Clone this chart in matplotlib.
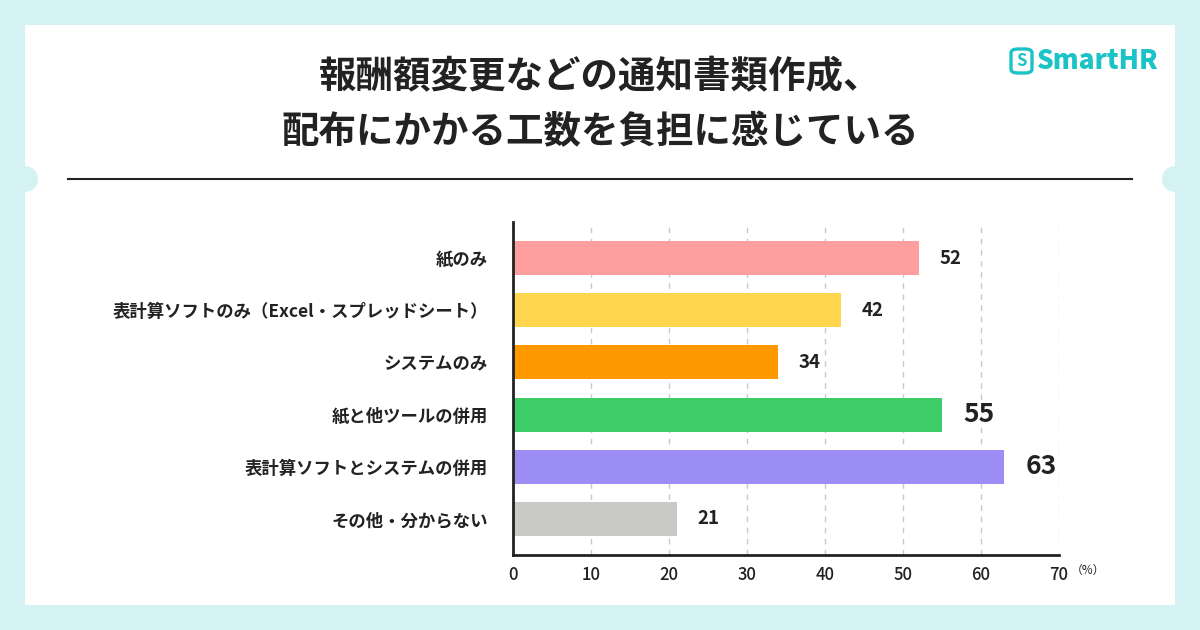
import matplotlib
matplotlib.use('Agg')
import matplotlib.pyplot as plt
from matplotlib.patches import FancyBboxPatch, Ellipse, Rectangle
from matplotlib.lines import Line2D

plt.rcParams['font.family'] = ['Noto Sans CJK JP', 'DejaVu Sans']

# data
categories = ['紙のみ', '表計算ソフトのみ（Excel・スプレッドシート）', 'システムのみ',
              '紙と他ツールの併用', '表計算ソフトとシステムの併用', 'その他・分からない']
values = [52, 42, 34, 55, 63, 21]
colors = ['#ff9e9e', '#ffd74f', '#ff9900', '#3dcc68', '#9d8ef5', '#c9c9c5']
highlight = [False, False, False, True, True, False]
xticks = [0, 10, 20, 30, 40, 50, 60, 70]
title = '報酬額変更などの通知書類作成、\n配布にかかる工数を負担に感じている'

W, H = 1200, 630
BG = '#d4f2f4'
TEAL = '#1cc3c6'
DARK = '#222222'


def fx(px):
    return px / W


def fy(py):
    # pixel y from top -> figure fraction
    return 1 - py / H


fig = plt.figure(figsize=(12, 6.3), dpi=100, facecolor=BG)

# white card with notches
fig.patches.append(Rectangle((fx(25), fy(605)), fx(1150), 580 / H, transform=fig.transFigure,
                             facecolor='white', edgecolor='none', zorder=-2))
for cx in (25, 1175):
    fig.patches.append(Ellipse((fx(cx), fy(179)), 26 / W, 26 / H, transform=fig.transFigure,
                               facecolor=BG, edgecolor='none', zorder=-1))

# title + separator
fig.text(0.5, fy(104), title, ha='center', va='center', fontsize=27, fontweight='bold',
         color=DARK, linespacing=1.5)
fig.lines.append(Line2D([fx(68), fx(1132)], [fy(179), fy(179)], transform=fig.transFigure,
                        color=DARK, lw=1.5))

# logo
fig.patches.append(FancyBboxPatch((fx(1011), fy(73)), 21 / W, 24 / H,
                                  boxstyle='round,pad=0,rounding_size=0.006',
                                  transform=fig.transFigure, facecolor='none',
                                  edgecolor=TEAL, lw=2.4))
fig.text(fx(1021.5), fy(61), 'S', ha='center', va='center', fontsize=12,
         fontweight='bold', color=TEAL)
fig.text(fx(1037), fy(61), 'SmartHR', ha='left', va='center', fontsize=19,
         fontweight='heavy', color=TEAL)

# chart
ax = fig.add_axes([fx(513), fy(555), fx(546), 333 / H], zorder=2)
ax.patch.set_alpha(0)
ypos = list(range(len(categories)))
ax.barh(ypos, values, height=0.65, color=colors, zorder=3)
ax.set_ylim(5.69, -0.69)
ax.set_xlim(0, 70)
ax.set_yticks(ypos)
ax.set_yticklabels(categories, fontsize=12.5, fontweight='bold', color=DARK)
ax.set_xticks(xticks)
ax.set_xticklabels([str(t) for t in xticks], fontsize=12, fontweight='medium', color=DARK)
ax.tick_params(axis='both', length=0)
ax.tick_params(axis='y', pad=18)
ax.tick_params(axis='x', pad=8)
ax.grid(axis='x', color='#c3cbd0', linestyle=(0, (4, 4)), lw=1, zorder=0)
for s in ('top', 'right'):
    ax.spines[s].set_visible(False)
for s in ('left', 'bottom'):
    ax.spines[s].set_color(DARK)
    ax.spines[s].set_linewidth(2)
    ax.spines[s].set_zorder(4)

for y, v, big in zip(ypos, values, highlight):
    ax.annotate(str(v), (v, y), xytext=(15, 0), textcoords='offset points',
                ha='left', va='center', fontsize=19 if big else 13.5,
                fontweight='bold', color=DARK)

fig.text(fx(1071), fy(570), '（%）', ha='left', va='center', fontsize=8.5, color=DARK)

fig.savefig('out.png', dpi=100, facecolor=BG)
